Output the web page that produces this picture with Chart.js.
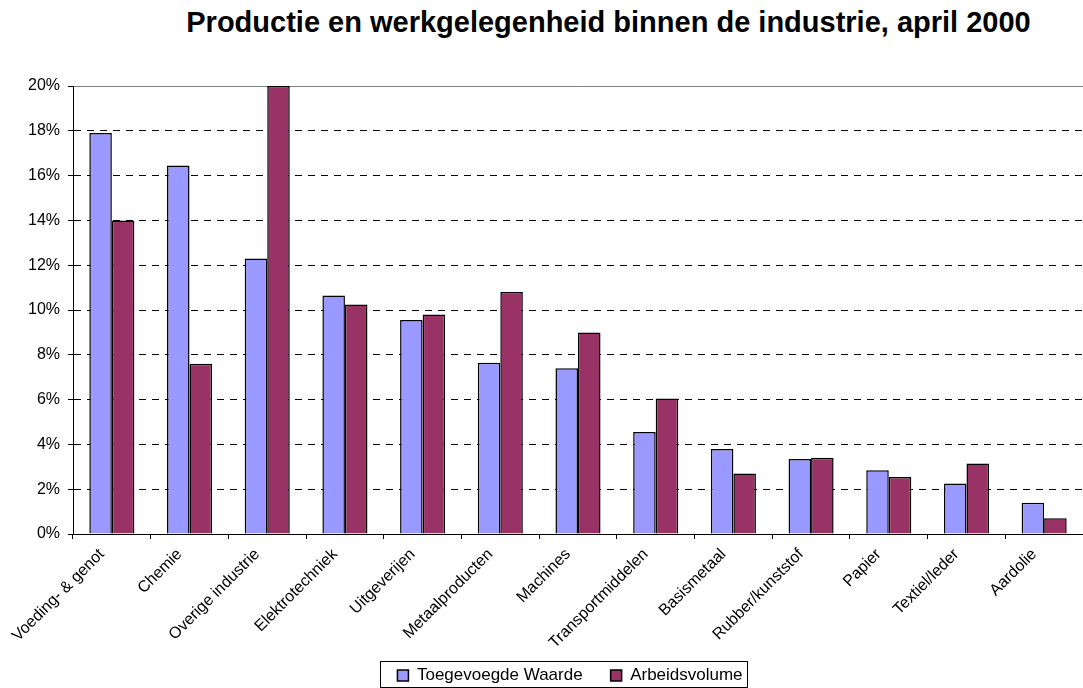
<!DOCTYPE html>
<html>
<head>
<meta charset="utf-8">
<script src="https://cdn.jsdelivr.net/npm/chart.js"></script>
<style>
    body { margin: 0; background: #fff; }
    #wrap { position: relative; width: 1083px; height: 688px; }
    #titel {
        position: absolute; left: 0; top: 8px; width: 1217px;
        text-align: center; font: bold 29px "Liberation Sans", Arial, sans-serif;
        line-height: 29px; color: #000; white-space: nowrap;
    }
    canvas { position: absolute; left: 0; top: 0; }
</style>
</head>
<body>
<div id="wrap">
    <div id="titel">Productie en werkgelegenheid binnen de industrie, april 2000</div>
    <canvas id="myChart" width="1083" height="688"></canvas>
</div>
<script>
let categorieen = ["Voeding- & genot", "Chemie", "Overige industrie", "Elektrotechniek",
    "Uitgeverijen", "Metaalproducten", "Machines", "Transportmiddelen", "Basismetaal",
    "Rubber/kunststof", "Papier", "Textiel/leder", "Aardolie"];

let toegevoegde_waarde = [17.9, 16.45, 12.3, 10.65, 9.55, 7.65, 7.4, 4.55, 3.8, 3.35, 2.85, 2.25, 1.4];
let arbeidsvolume = [14.0, 7.6, 20.0, 10.25, 9.8, 10.8, 9.0, 6.05, 2.7, 3.4, 2.55, 3.15, 0.7];

let y_min = 0;
let y_max = 20;
let y_stap = 2;

Chart.defaults.font.family = '"Liberation Sans", Arial, sans-serif';
Chart.defaults.color = '#000';

// labels van de x-as niet afknippen, legenda iets naar links
let opmaak_fix = {
    id: 'opmaak_fix',
    afterLayout(chart) {
        chart.scales.x.bottom = chart.height;
        chart.legend.left -= 8;
        chart.legend.right -= 8;
    }
};

// kader rond de legenda, zoals in Excel
let legenda_kader = {
    id: 'legenda_kader',
    afterDraw(chart) {
        let boxes = chart.legend.legendHitBoxes;
        if (!boxes || !boxes.length) return;
        let eerste = boxes[0];
        let laatste = boxes[boxes.length - 1];
        let ctx = chart.ctx;
        let links = eerste.left - 17;
        let rechts = laatste.left + laatste.width + 5;
        ctx.save();
        ctx.strokeStyle = '#000';
        ctx.lineWidth = 1;
        ctx.strokeRect(Math.round(links) + 0.5, Math.round(eerste.top - 6) + 0.5,
            Math.round(rechts - links), 26);
        ctx.restore();
    }
};

let my_chart = new Chart(document.getElementById('myChart'), {
    type: 'bar',
    data: {
        labels: categorieen,
        datasets: [{
            label: 'Toegevoegde Waarde',
            data: toegevoegde_waarde,
            backgroundColor: '#9999FF',
            borderColor: '#000',
            borderWidth: 1.5
        }, {
            label: 'Arbeidsvolume',
            data: arbeidsvolume,
            backgroundColor: '#993366',
            borderColor: '#000',
            borderWidth: 1.5
        }]
    },
    options: {
        responsive: false,
        animation: false,
        devicePixelRatio: 1,
        datasets: {
            bar: { categoryPercentage: 0.58, barPercentage: 1 }
        },
        layout: {
            padding: { top: 86, right: 0, bottom: -6, left: -16 }
        },
        plugins: {
            title: { display: false },
            tooltip: { enabled: false },
            legend: {
                position: 'bottom',
                fullSize: false,
                labels: {
                    boxWidth: 11,
                    boxHeight: 11,
                    padding: 28,
                    font: { size: 17 },
                    color: '#000'
                }
            }
        },
        scales: {
            x: {
                afterFit: (scale) => { scale.height = 105; },
                grid: {
                    display: true,
                    drawOnChartArea: false,
                    drawTicks: true,
                    tickLength: 5,
                    color: '#000',
                    offset: true
                },
                border: { display: true, color: '#000', width: 1 },
                ticks: {
                    autoSkip: false,
                    minRotation: 45,
                    maxRotation: 45,
                    padding: 6,
                    labelOffset: -10,
                    font: { size: 16 },
                    color: '#000'
                }
            },
            y: {
                min: y_min,
                max: y_max,
                afterFit: (scale) => { scale.width = 89; },
                grid: {
                    color: (c) => c.tick && c.tick.value === y_max ? '#808080' : '#000',
                    tickColor: '#000',
                    tickLength: 5,
                    lineWidth: 1
                },
                border: {
                    display: true,
                    color: '#000',
                    width: 1,
                    dash: (c) => c.tick && (c.tick.value === y_max || c.tick.value === y_min) ? [] : [7, 6]
                },
                ticks: {
                    stepSize: y_stap,
                    padding: 8,
                    font: { size: 16 },
                    color: '#000',
                    callback: (v) => v + '%'
                }
            }
        }
    },
    plugins: [opmaak_fix, legenda_kader]
});
</script>
</body>
</html>
